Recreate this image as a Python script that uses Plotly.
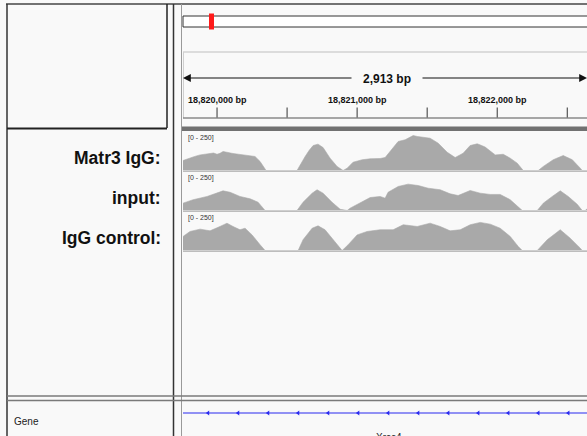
import numpy as np
import plotly.graph_objects as go

W, H = 587, 436

# ---- genomic window ----
VIEW_START = 18819757
VIEW_SPAN = 2913
VISIBLE_END = 18822641          # right edge of the (cropped) screenshot

RULER_LABEL_POS = [18820000, 18821000, 18822000]
RULER_LABELS = ["18,820,000 bp", "18,821,000 bp", "18,822,000 bp"]
RULER_TICKS = [18820000, 18820500, 18821000, 18821500, 18822000, 18822500]
SPAN_LABEL = "2,913 bp"

TRACK_NAMES = ["Matr3 IgG:", "input:", "IgG control:"]
DATA_RANGE_LABEL = "[0 - 250]"
DATA_MAX = 250

# ---- coverage tracks (position bp, depth) ----
T1_POS = [18819757, 18819780, 18819807, 18819840, 18819879, 18819910, 18819950, 18819975,
          18820000, 18820021, 18820043, 18820070, 18820114, 18820164, 18820214, 18820250,
          18820271, 18820307, 18820343, 18820350, 18820571, 18820593, 18820629, 18820657,
          18820686, 18820721, 18820757, 18820807, 18820857, 18820900, 18820929, 18820971,
          18821036, 18821093, 18821164, 18821200, 18821236, 18821293, 18821343, 18821370,
          18821400, 18821430, 18821464, 18821521, 18821579, 18821643, 18821700, 18821757,
          18821807, 18821857, 18821879, 18821914, 18821986, 18822043, 18822093, 18822143,
          18822186, 18822293, 18822329, 18822400, 18822471, 18822536, 18822593, 18822607,
          18822643]
T1_VAL = [64, 72, 83, 90, 100, 104, 109, 112,
          104, 110, 122, 116, 109, 103, 96, 92,
          90, 58, 6, 0, 0, 37, 90, 128,
          160, 169, 147, 79, 26, 0, 15, 53,
          69, 75, 77, 83, 122, 186, 197, 210,
          224, 218, 213, 207, 175, 117, 83, 111,
          160, 171, 164, 150, 100, 104, 79, 47,
          0, 0, 26, 69, 96, 69, 15, 0,
          0]

T2_POS = [18819757, 18819829, 18819929, 18820000, 18820043, 18820093, 18820164, 18820236,
          18820293, 18820329, 18820343, 18820571, 18820614, 18820679, 18820714, 18820757,
          18820821, 18820879, 18820929, 18820950, 18821021, 18821093, 18821164, 18821200,
          18821221, 18821293, 18821364, 18821436, 18821507, 18821593, 18821664, 18821721,
          18821807, 18821879, 18821950, 18822021, 18822093, 18822143, 18822179, 18822286,
          18822329, 18822393, 18822450, 18822507, 18822571, 18822607, 18822629, 18822643]
T2_VAL = [47, 69, 90, 111, 126, 117, 90, 75,
          53, 15, 0, 0, 53, 111, 133, 111,
          53, 8, 0, 15, 47, 83, 90, 79,
          117, 154, 169, 160, 143, 133, 107, 96,
          128, 111, 103, 103, 69, 32, 0, 0,
          47, 90, 126, 90, 40, 0, 0, 13]

T3_POS = [18819757, 18819807, 18819879, 18819950, 18820021, 18820071, 18820114, 18820164,
          18820200, 18820250, 18820307, 18820343, 18820579, 18820614, 18820679, 18820721,
          18820771, 18820829, 18820893, 18820936, 18821000, 18821071, 18821164, 18821257,
          18821329, 18821429, 18821521, 18821593, 18821664, 18821736, 18821807, 18821879,
          18821950, 18822021, 18822093, 18822150, 18822179, 18822286, 18822357, 18822450,
          18822521, 18822593, 18822607, 18822643]
T3_VAL = [90, 122, 137, 126, 154, 175, 154, 133,
          143, 100, 37, 0, 0, 69, 143, 158,
          133, 69, 0, 37, 100, 122, 133, 133,
          165, 154, 175, 154, 126, 133, 165, 180,
          169, 143, 90, 26, 0, 0, 69, 133,
          79, 15, 0, 0]

# ---- gene track ----
GENE_NAME = "Xrcc4"
GENE_START, GENE_END = 18819500, 18822900
GENE_LABEL_POS = 18821225
STRAND_GLYPH_START = 18819936
STRAND_GLYPH_STEP = 214.3

TRACKS = [(T1_POS, T1_VAL), (T2_POS, T2_VAL), (T3_POS, T3_VAL)]
for p, v in TRACKS:
    assert len(p) == len(v)

FONT = "Arial, 'Liberation Sans', Helvetica, sans-serif"
BG = "#f9f9f9"
FILL = "#a9a9a9"


def px(x):
    return x / W


def py(y):
    return 1 - y / H


fig = go.Figure()

# coverage tracks
baselines = [170.5, 210.5, 250.5]
for i, (pos, val) in enumerate(TRACKS):
    fig.add_trace(go.Scatter(x=pos, y=val, xaxis="x", yaxis=f"y{i + 2}", mode="lines",
                             fill="tozeroy", fillcolor=FILL,
                             line=dict(color=FILL, width=0.6), hoverinfo="skip",
                             showlegend=False))

# gene line + strand chevrons
fig.add_trace(go.Scatter(x=[GENE_START, GENE_END], y=[0.5, 0.5], xaxis="x", yaxis="y",
                         mode="lines", line=dict(color="#2b2bf0", width=1.2),
                         hoverinfo="skip", showlegend=False))
chev = np.arange(STRAND_GLYPH_START, VISIBLE_END, STRAND_GLYPH_STEP)
fig.add_trace(go.Scatter(x=chev, y=[0.5] * len(chev), xaxis="x", yaxis="y", mode="markers",
                         marker=dict(symbol="triangle-left", size=4.5, color="#2b2bf0"),
                         hoverinfo="skip", showlegend=False))

layout_axes = dict(
    xaxis=dict(domain=[px(183), 1], range=[VIEW_START, VISIBLE_END], visible=False,
               fixedrange=True),
    yaxis=dict(domain=[py(421), py(405)], range=[0, 1], visible=False, anchor="x",
               fixedrange=True),
)
for i, b in enumerate(baselines):
    layout_axes[f"yaxis{i + 2}"] = dict(domain=[py(b), py(b - 39)], range=[0, DATA_MAX],
                                        visible=False, anchor="x", fixedrange=True)

shapes = []


def hline(y, x0, x1, color, width):
    shapes.append(dict(type="line", xref="paper", yref="paper", x0=px(x0), x1=px(x1),
                       y0=py(y), y1=py(y), line=dict(color=color, width=width)))


def vline(x, y0, y1, color, width):
    shapes.append(dict(type="line", xref="paper", yref="paper", x0=px(x), x1=px(x),
                       y0=py(y0), y1=py(y1), line=dict(color=color, width=width)))


def rect(x0, y0, x1, y1, fill, line=None, lw=0):
    shapes.append(dict(type="rect", xref="paper", yref="paper", x0=px(x0), x1=px(x1),
                       y0=py(y1), y1=py(y0), fillcolor=fill,
                       line=dict(color=line or fill, width=lw)))


# frame
hline(4, 6, 587, "#444", 1.5)
vline(7, 4, 436, "#333", 1.5)
vline(167, 4, 128, "#222", 1.5)
hline(128.5, 7, 167, "#222", 2)
vline(173.5, 4, 436, "#333", 1.5)
vline(181.5, 4, 436, "#9a9a9a", 1)

# ideogram
rect(183, 16, 600, 27, "#ffffff", "#333", 1)
rect(209, 13.5, 214, 29.5, "#ff1a1a")

# ruler panel
hline(52, 183, 587, "#d2d2d2", 1.5)
vline(183.5, 52, 118, "#cfcfcf", 1)
hline(118, 183, 587, "#8a8a8a", 1.5)
for t in RULER_TICKS:
    shapes.append(dict(type="line", xref="x", yref="paper", x0=t, x1=t,
                       y0=py(117.5), y1=py(107.5), line=dict(color="#333", width=1)))

# header separator band
rect(182, 126.5, 590, 131, "#717171")

# track baselines
for b in baselines:
    hline(b + 0.8, 183, 587, "#bdbdbd", 1.5)

# bottom double separator
hline(396, 7, 587, "#7a7a7a", 1.5)
hline(400.5, 7, 587, "#7a7a7a", 1.5)

annotations = []

# left track names
for name, b in zip(TRACK_NAMES, baselines):
    annotations.append(dict(text=name, xref="paper", yref="paper", x=px(162.5), y=py(b - 12.5),
                            xanchor="right", yanchor="middle", showarrow=False,
                            font=dict(family=FONT, size=17.5, color="#111", weight="bold")))
    annotations.append(dict(text=DATA_RANGE_LABEL, xref="paper", yref="paper", x=px(186),
                            y=py(b - 32.5), xanchor="left", yanchor="middle", showarrow=False,
                            font=dict(family=FONT, size=7, color="#333")))

# ruler labels
for pos, lab in zip(RULER_LABEL_POS, RULER_LABELS):
    annotations.append(dict(text=lab, xref="x", yref="paper", x=pos, y=py(100),
                            xanchor="center", yanchor="middle", showarrow=False,
                            font=dict(family=FONT, size=9, color="#111", weight="bold")))

span_center = VIEW_START + VIEW_SPAN / 2
annotations.append(dict(text=SPAN_LABEL, xref="x", yref="paper", x=span_center, y=py(79),
                        xanchor="center", yanchor="middle", showarrow=False,
                        font=dict(family=FONT, size=12, color="#111", weight="bold")))
# span arrows
annotations.append(dict(text="", xref="x", yref="paper", x=VIEW_START, y=py(78),
                        ax=170, ay=0, showarrow=True, arrowhead=2, arrowsize=1.3,
                        arrowwidth=1.2, arrowcolor="#111", standoff=0, startstandoff=0))
annotations.append(dict(text="", xref="x", yref="paper", x=VISIBLE_END, y=py(78),
                        ax=-166, ay=0, showarrow=True, arrowhead=2, arrowsize=1.3,
                        arrowwidth=1.2, arrowcolor="#111", standoff=0, startstandoff=0))

# gene labels
annotations.append(dict(text="Gene", xref="paper", yref="paper", x=px(12), y=py(421),
                        xanchor="left", yanchor="middle", showarrow=False,
                        font=dict(family=FONT, size=10, color="#222")))
annotations.append(dict(text=GENE_NAME, xref="x", yref="paper", x=GENE_LABEL_POS, y=py(430),
                        xanchor="center", yanchor="top", showarrow=False,
                        font=dict(family=FONT, size=10, color="#222")))

fig.update_layout(
    width=W, height=H, autosize=False,
    margin=dict(l=0, r=0, t=0, b=0, pad=0),
    paper_bgcolor=BG, plot_bgcolor="rgba(0,0,0,0)",
    shapes=shapes, annotations=annotations, showlegend=False,
    hovermode=False,
    **layout_axes,
)

fig.write_html("out.html",
               config={"displayModeBar": False, "staticPlot": True},
               post_script="document.body.style.margin='0';document.body.style.overflow='hidden';")
